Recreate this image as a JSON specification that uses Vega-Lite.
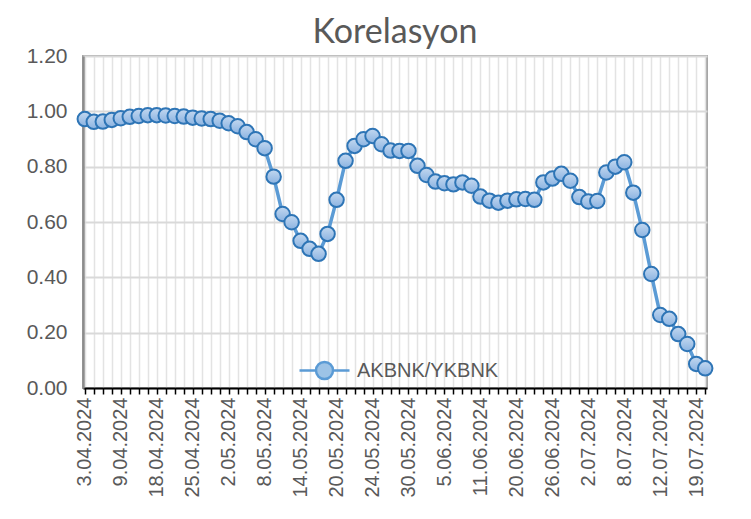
{
  "$schema": "https://vega.github.io/schema/vega-lite/v6.json",
  "autosize": {"type": "none"},
  "padding": {"left": 83, "top": 56, "right": 44, "bottom": 131},
  "width": 624,
  "height": 332,
  "background": "white",
  "title": {
    "text": "Korelasyon",
    "font": "Lato",
    "fontSize": 34,
    "fontWeight": "normal",
    "color": "#595959",
    "anchor": "middle",
    "frame": "group",
    "offset": 4,
    "dy": 9
  },
  "data": {
    "values": [
      {"date": "3.04.2024", "value": 0.972, "series": "AKBNK/YKBNK"},
      {"date": "4.04.2024", "value": 0.962, "series": "AKBNK/YKBNK"},
      {"date": "5.04.2024", "value": 0.963, "series": "AKBNK/YKBNK"},
      {"date": "8.04.2024", "value": 0.969, "series": "AKBNK/YKBNK"},
      {"date": "9.04.2024", "value": 0.975, "series": "AKBNK/YKBNK"},
      {"date": "15.04.2024", "value": 0.980, "series": "AKBNK/YKBNK"},
      {"date": "16.04.2024", "value": 0.983, "series": "AKBNK/YKBNK"},
      {"date": "17.04.2024", "value": 0.986, "series": "AKBNK/YKBNK"},
      {"date": "18.04.2024", "value": 0.986, "series": "AKBNK/YKBNK"},
      {"date": "19.04.2024", "value": 0.985, "series": "AKBNK/YKBNK"},
      {"date": "22.04.2024", "value": 0.983, "series": "AKBNK/YKBNK"},
      {"date": "24.04.2024", "value": 0.981, "series": "AKBNK/YKBNK"},
      {"date": "25.04.2024", "value": 0.977, "series": "AKBNK/YKBNK"},
      {"date": "26.04.2024", "value": 0.974, "series": "AKBNK/YKBNK"},
      {"date": "29.04.2024", "value": 0.972, "series": "AKBNK/YKBNK"},
      {"date": "30.04.2024", "value": 0.966, "series": "AKBNK/YKBNK"},
      {"date": "2.05.2024", "value": 0.957, "series": "AKBNK/YKBNK"},
      {"date": "3.05.2024", "value": 0.946, "series": "AKBNK/YKBNK"},
      {"date": "6.05.2024", "value": 0.925, "series": "AKBNK/YKBNK"},
      {"date": "7.05.2024", "value": 0.899, "series": "AKBNK/YKBNK"},
      {"date": "8.05.2024", "value": 0.867, "series": "AKBNK/YKBNK"},
      {"date": "9.05.2024", "value": 0.764, "series": "AKBNK/YKBNK"},
      {"date": "10.05.2024", "value": 0.629, "series": "AKBNK/YKBNK"},
      {"date": "13.05.2024", "value": 0.599, "series": "AKBNK/YKBNK"},
      {"date": "14.05.2024", "value": 0.532, "series": "AKBNK/YKBNK"},
      {"date": "15.05.2024", "value": 0.503, "series": "AKBNK/YKBNK"},
      {"date": "16.05.2024", "value": 0.485, "series": "AKBNK/YKBNK"},
      {"date": "17.05.2024", "value": 0.557, "series": "AKBNK/YKBNK"},
      {"date": "20.05.2024", "value": 0.680, "series": "AKBNK/YKBNK"},
      {"date": "21.05.2024", "value": 0.821, "series": "AKBNK/YKBNK"},
      {"date": "22.05.2024", "value": 0.875, "series": "AKBNK/YKBNK"},
      {"date": "23.05.2024", "value": 0.899, "series": "AKBNK/YKBNK"},
      {"date": "24.05.2024", "value": 0.911, "series": "AKBNK/YKBNK"},
      {"date": "27.05.2024", "value": 0.881, "series": "AKBNK/YKBNK"},
      {"date": "28.05.2024", "value": 0.858, "series": "AKBNK/YKBNK"},
      {"date": "29.05.2024", "value": 0.857, "series": "AKBNK/YKBNK"},
      {"date": "30.05.2024", "value": 0.857, "series": "AKBNK/YKBNK"},
      {"date": "31.05.2024", "value": 0.803, "series": "AKBNK/YKBNK"},
      {"date": "3.06.2024", "value": 0.770, "series": "AKBNK/YKBNK"},
      {"date": "4.06.2024", "value": 0.746, "series": "AKBNK/YKBNK"},
      {"date": "5.06.2024", "value": 0.740, "series": "AKBNK/YKBNK"},
      {"date": "6.06.2024", "value": 0.736, "series": "AKBNK/YKBNK"},
      {"date": "7.06.2024", "value": 0.743, "series": "AKBNK/YKBNK"},
      {"date": "10.06.2024", "value": 0.731, "series": "AKBNK/YKBNK"},
      {"date": "11.06.2024", "value": 0.692, "series": "AKBNK/YKBNK"},
      {"date": "12.06.2024", "value": 0.677, "series": "AKBNK/YKBNK"},
      {"date": "13.06.2024", "value": 0.670, "series": "AKBNK/YKBNK"},
      {"date": "14.06.2024", "value": 0.677, "series": "AKBNK/YKBNK"},
      {"date": "20.06.2024", "value": 0.682, "series": "AKBNK/YKBNK"},
      {"date": "21.06.2024", "value": 0.683, "series": "AKBNK/YKBNK"},
      {"date": "24.06.2024", "value": 0.680, "series": "AKBNK/YKBNK"},
      {"date": "25.06.2024", "value": 0.743, "series": "AKBNK/YKBNK"},
      {"date": "26.06.2024", "value": 0.757, "series": "AKBNK/YKBNK"},
      {"date": "27.06.2024", "value": 0.774, "series": "AKBNK/YKBNK"},
      {"date": "28.06.2024", "value": 0.749, "series": "AKBNK/YKBNK"},
      {"date": "1.07.2024", "value": 0.690, "series": "AKBNK/YKBNK"},
      {"date": "2.07.2024", "value": 0.674, "series": "AKBNK/YKBNK"},
      {"date": "3.07.2024", "value": 0.676, "series": "AKBNK/YKBNK"},
      {"date": "4.07.2024", "value": 0.779, "series": "AKBNK/YKBNK"},
      {"date": "5.07.2024", "value": 0.800, "series": "AKBNK/YKBNK"},
      {"date": "8.07.2024", "value": 0.816, "series": "AKBNK/YKBNK"},
      {"date": "9.07.2024", "value": 0.706, "series": "AKBNK/YKBNK"},
      {"date": "10.07.2024", "value": 0.571, "series": "AKBNK/YKBNK"},
      {"date": "11.07.2024", "value": 0.412, "series": "AKBNK/YKBNK"},
      {"date": "12.07.2024", "value": 0.264, "series": "AKBNK/YKBNK"},
      {"date": "16.07.2024", "value": 0.250, "series": "AKBNK/YKBNK"},
      {"date": "17.07.2024", "value": 0.195, "series": "AKBNK/YKBNK"},
      {"date": "18.07.2024", "value": 0.159, "series": "AKBNK/YKBNK"},
      {"date": "19.07.2024", "value": 0.087, "series": "AKBNK/YKBNK"},
      {"date": "22.07.2024", "value": 0.071, "series": "AKBNK/YKBNK"}
    ]
  },
  "encoding": {
    "x": {
      "field": "date",
      "type": "ordinal",
      "sort": null,
      "scale": {"type": "point", "padding": 0.2},
      "axis": {
        "title": null,
        "labelAngle": -90,
        "labelFont": "Liberation Sans",
        "labelFontSize": 20,
        "labelColor": "#595959",
        "labelOverlap": false,
        "labelPadding": 3,
        "labelExpr": "indexof(['3.04.2024','9.04.2024','18.04.2024','25.04.2024','2.05.2024','8.05.2024','14.05.2024','20.05.2024','24.05.2024','30.05.2024','5.06.2024','11.06.2024','20.06.2024','26.06.2024','2.07.2024','8.07.2024','12.07.2024','19.07.2024'], datum.value) >= 0 ? datum.label : ''",
        "domainColor": "#000000",
        "domainWidth": 2,
        "tickColor": "#000000",
        "tickWidth": 1.5,
        "tickSize": 6,
        "grid": true,
        "gridColor": "#e3e3e3",
        "gridWidth": 1.5
      }
    },
    "y": {
      "field": "value",
      "type": "quantitative",
      "scale": {"domain": [0, 1.2], "nice": false, "zero": true},
      "axis": {
        "title": null,
        "values": [0, 0.2, 0.4, 0.6, 0.8, 1.0, 1.2],
        "format": ".2f",
        "labelFont": "Liberation Sans",
        "labelFontSize": 21,
        "labelColor": "#595959",
        "labelPadding": 16,
        "ticks": false,
        "domainColor": "#8c8c8c",
        "domainWidth": 2.5,
        "grid": true,
        "gridColor": "#d9d9d9",
        "gridWidth": 2
      }
    }
  },
  "layer": [
    {
      "mark": {"type": "line", "strokeWidth": 3.5, "interpolate": "linear"},
      "encoding": {
        "color": {
          "field": "series",
          "type": "nominal",
          "scale": {"range": ["#5b9bd5"]},
          "legend": {
            "title": null,
            "orient": "none",
            "legendX": 215,
            "legendY": 288,
            "symbolType": "M-1,0L-0.34,0M0.34,0L1,0M-0.34,0A0.34,0.34,0,1,1,0.34,0A0.34,0.34,0,1,1,-0.34,0Z",
            "symbolSize": 2500,
            "symbolStrokeWidth": 2.5,
            "labelFont": "Liberation Sans",
            "labelFontSize": 20,
            "labelColor": "#595959",
            "labelOffset": 6,
            "padding": 0,
            "encode": {
              "symbols": {
                "update": {
                  "fill": {"value": "#9dc3e6"},
                  "stroke": {"value": "#4a8ad0"},
                  "strokeWidth": {"value": 2.5},
                  "opacity": {"value": 1}
                }
              }
            }
          }
        }
      }
    },
    {
      "mark": {
        "type": "point",
        "shape": "circle",
        "filled": true,
        "size": 210,
        "opacity": 1,
        "fill": {
          "gradient": "linear",
          "x1": 0, "y1": 0, "x2": 0, "y2": 1,
          "stops": [
            {"offset": 0, "color": "#c3d8f0"},
            {"offset": 1, "color": "#8bb3e1"}
          ]
        },
        "stroke": "#2e75b6",
        "strokeWidth": 2
      }
    }
  ],
  "config": {
    "view": {"stroke": "#a6a6a6", "strokeWidth": 2}
  }
}
